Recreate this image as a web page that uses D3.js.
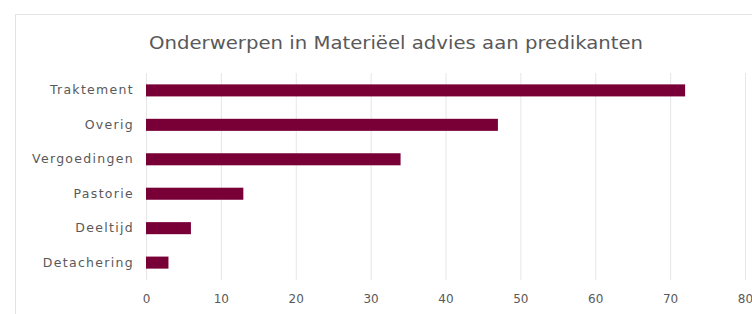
<!DOCTYPE html>
<html>
<head>
<meta charset="utf-8">
<script src="https://cdn.jsdelivr.net/npm/d3@7"></script>
<style>
  html, body { margin: 0; padding: 0; background: #fff; }
  svg { display: block; }
  text { font-family: "Century Gothic", "DejaVu Sans", sans-serif; fill: #595959; }
</style>
</head>
<body>
<div id="chart"></div>
<script>
// data
const categories = ["Traktement", "Overig", "Vergoedingen", "Pastorie", "Deeltijd", "Detachering"];
const values = [72, 47, 34, 13, 6, 3];
const xTicks = [0, 10, 20, 30, 40, 50, 60, 70, 80];
const chartTitle = "Onderwerpen in Materiëel advies aan predikanten";

const width = 752, height = 314;
const margin = { top: 73, right: 7, bottom: 34, left: 146 };

const svg = d3.select("#chart").append("svg")
  .attr("width", width)
  .attr("height", height);

// outer chart border
svg.append("rect")
  .attr("x", 15.5)
  .attr("y", 14.5)
  .attr("width", 760)
  .attr("height", 320)
  .attr("fill", "#fff")
  .attr("stroke", "#e3e3e3");

svg.append("text")
  .attr("x", 396)
  .attr("y", 49)
  .attr("text-anchor", "middle")
  .attr("font-size", "18px")
  .attr("textLength", 494)
  .attr("lengthAdjust", "spacingAndGlyphs")
  .text(chartTitle);

const x = d3.scaleLinear()
  .domain([0, 80])
  .range([margin.left, margin.left + 599]);

const y = d3.scaleBand()
  .domain(categories)
  .range([margin.top, height - margin.bottom])
  .paddingInner(0.65)
  .paddingOuter(0.33);

// gridlines
svg.append("g")
  .selectAll("line")
  .data(xTicks)
  .join("line")
  .attr("x1", (d) => x(d) + 0.5)
  .attr("x2", (d) => x(d) + 0.5)
  .attr("y1", margin.top)
  .attr("y2", height - margin.bottom)
  .attr("stroke", "#e6e6e6");

// bars
svg.append("g")
  .selectAll("rect")
  .data(values)
  .join("rect")
  .attr("x", x(0))
  .attr("y", (d, i) => y(categories[i]))
  .attr("width", (d) => x(d) - x(0))
  .attr("height", y.bandwidth())
  .attr("fill", "#780037");

// x axis
const xAxis = svg.append("g")
  .attr("transform", `translate(0,${height - margin.bottom})`)
  .call(d3.axisBottom(x).tickValues(xTicks).tickSize(0).tickPadding(14));
xAxis.select(".domain").remove();
xAxis.selectAll("text")
  .attr("font-size", "12px")
  .style("font-family", null);

// y axis (labels a bit wider, like the original font)
const yAxis = svg.append("g")
  .attr("transform", `translate(${margin.left},0)`)
  .call(d3.axisLeft(y).tickSize(0).tickPadding(12));
yAxis.select(".domain").remove();
yAxis.selectAll("text")
  .attr("font-size", "12.5px")
  .attr("letter-spacing", "1.3px")
  .style("font-family", null);
</script>
</body>
</html>
